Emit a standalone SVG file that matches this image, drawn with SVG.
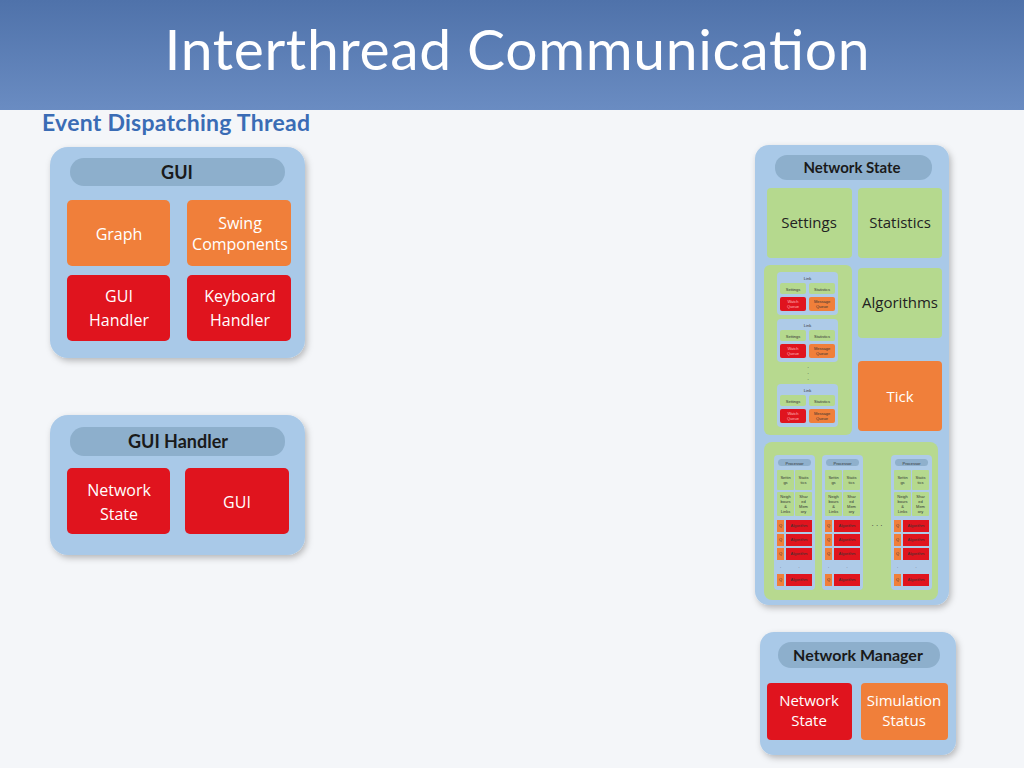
<svg xmlns="http://www.w3.org/2000/svg" xmlns:xlink="http://www.w3.org/1999/xlink" width="1024" height="768" viewBox="0 0 1024 768">
<defs>
<linearGradient id="hdr" x1="0" y1="0" x2="0" y2="1"><stop offset="0" stop-color="#4f72aa"/><stop offset="1" stop-color="#6a8cc2"/></linearGradient>
<filter id="sh" x="-10%" y="-10%" width="130%" height="130%"><feDropShadow dx="2" dy="3" stdDeviation="3" flood-color="#000" flood-opacity="0.25"/></filter>
<g id="link">
<rect x="0" y="0" width="61" height="43" rx="4" fill="#aecbe8"/>
<text x="30.5" y="8" class="t3">Link</text>
<rect x="3" y="11" width="26" height="11" rx="2" fill="#b5d98e"/><text x="16" y="18.5" class="t3">Settings</text>
<rect x="32" y="11" width="26" height="11" rx="2" fill="#b5d98e"/><text x="45" y="18.5" class="t3">Statistics</text>
<rect x="3" y="25" width="26" height="14" rx="2" fill="#e0141e"/><text x="16" y="31" class="t3w">Watch</text><text x="16" y="36" class="t3w">Queue</text>
<rect x="32" y="25" width="26" height="14" rx="2" fill="#f07f3a"/><text x="45" y="31" class="t3">Message</text><text x="45" y="36" class="t3">Queue</text>
</g>
<g id="proc">
<rect x="0" y="0" width="41" height="135" rx="4" fill="#aecbe8"/>
<rect x="4" y="4" width="33" height="7" rx="3.5" fill="#8fb0cc"/><text x="20.5" y="9.5" class="t3">Processor</text>
<rect x="3" y="15" width="17" height="20" rx="1" fill="#b5d98e"/><text x="11.5" y="24" class="t3">Settin</text><text x="11.5" y="29" class="t3">gs</text>
<rect x="21" y="15" width="17" height="20" rx="1" fill="#b5d98e"/><text x="29.5" y="24" class="t3">Statis</text><text x="29.5" y="29" class="t3">tics</text>
<rect x="3" y="37" width="17" height="24" rx="1" fill="#b5d98e"/><text x="11.5" y="43" class="t3">Neigh</text><text x="11.5" y="48" class="t3">bours</text><text x="11.5" y="53" class="t3">&amp;</text><text x="11.5" y="58" class="t3">Links</text>
<rect x="21" y="37" width="17" height="24" rx="1" fill="#b5d98e"/><text x="29.5" y="43" class="t3">Shar</text><text x="29.5" y="48" class="t3">ed</text><text x="29.5" y="53" class="t3">Mem</text><text x="29.5" y="58" class="t3">ory</text>
<g id="qa"><rect x="3" y="65" width="7" height="12" fill="#f07f3a"/><text x="6.5" y="72" class="t3">Q</text><rect x="12" y="65" width="26" height="12" fill="#e0141e"/><text x="25" y="72" class="t3">Algorithm</text></g>
<use xlink:href="#qa" y="14"/><use xlink:href="#qa" y="28"/>
<text x="6.5" y="113" class="t3">.</text><text x="25" y="113" class="t3">.</text>
<use xlink:href="#qa" y="54"/>
</g>
</defs>
<style>
.pan{fill:#a9c9e8;filter:url(#sh)}
.pill{fill:#8dafcc}
.lbl{font-family:"Open Sans","Liberation Sans",sans-serif;font-size:16px;fill:#fff;text-anchor:middle}
.lbk{font-family:"Open Sans","Liberation Sans",sans-serif;font-size:15px;fill:#222;text-anchor:middle}
.hd{font-family:"Lato","Liberation Sans",sans-serif;font-weight:bold;font-size:18px;fill:#1a1a1a;text-anchor:middle}
.t3{font-family:"Liberation Sans",sans-serif;font-size:4px;fill:#333;text-anchor:middle}
.t3w{font-family:"Liberation Sans",sans-serif;font-size:4px;fill:#fbb;text-anchor:middle}
.red{fill:#e0141e}.org{fill:#f07f3a}.grn{fill:#b5d98e}
</style>
<rect width="1024" height="768" fill="#f4f6f9"/>
<rect width="1024" height="110" fill="url(#hdr)"/>
<text x="517" y="70" font-family="Lato,'Open Sans','Liberation Sans',sans-serif" font-size="57" fill="#fff" text-anchor="middle" textLength="705">Interthread Communication</text>
<text x="42" y="131" font-family="Lato,'Liberation Sans',sans-serif" font-weight="bold" font-size="23" fill="#3a6cb5" textLength="268">Event Dispatching Thread</text>

<g id="gui-panel">
<rect class="pan" x="50" y="147" width="255" height="211" rx="18"/>
<rect class="pill" x="70" y="158" width="215" height="28" rx="14"/><text class="hd" x="177" y="179">GUI</text>
<g id="graph"><rect class="org" x="67" y="200" width="103" height="66" rx="5"/><text class="lbl" x="119" y="240">Graph</text></g>
<g id="swing"><rect class="org" x="187" y="200" width="104" height="66" rx="5"/><text class="lbl" x="240" y="229">Swing</text><text class="lbl" x="240" y="250">Components</text></g>
<g id="guihandler"><rect class="red" x="67" y="275" width="103" height="66" rx="5"/><text class="lbl" x="119" y="302">GUI</text><text class="lbl" x="119" y="326">Handler</text></g>
<g id="keyboard"><rect class="red" x="187" y="275" width="104" height="66" rx="5"/><text class="lbl" x="240" y="302">Keyboard</text><text class="lbl" x="240" y="326">Handler</text></g>
</g>

<g id="guihandler-panel">
<rect class="pan" x="50" y="415" width="255" height="140" rx="18"/>
<rect class="pill" x="70" y="427" width="215" height="29" rx="14"/><text class="hd" x="178" y="448">GUI Handler</text>
<g id="gh-ns"><rect class="red" x="67" y="468" width="103" height="66" rx="5"/><text class="lbl" x="119" y="496">Network</text><text class="lbl" x="119" y="520">State</text></g>
<g id="gh-gui"><rect class="red" x="185" y="468" width="104" height="66" rx="5"/><text class="lbl" x="237" y="508">GUI</text></g>
</g>

<g id="networkstate-panel">
<rect class="pan" x="755" y="145" width="194" height="460" rx="14"/>
<rect class="pill" x="775" y="155" width="157" height="25" rx="12"/><text class="hd" x="852" y="173" style="font-size:15px">Network State</text>
<g id="ns-settings"><rect class="grn" x="767" y="188" width="85" height="70" rx="4"/><text class="lbk" x="809" y="228">Settings</text></g>
<g id="ns-stats"><rect class="grn" x="858" y="188" width="84" height="70" rx="4"/><text class="lbk" x="900" y="228">Statistics</text></g>
<g id="links"><rect x="764" y="265" width="88" height="170" rx="6" fill="#b7d98f"/>
<use xlink:href="#link" x="777" y="272"/><use xlink:href="#link" x="777" y="319"/>
<text class="t3" x="808" y="368" style="font-size:6px">.</text><text class="t3" x="808" y="374" style="font-size:6px">.</text><text class="t3" x="808" y="380" style="font-size:6px">.</text>
<use xlink:href="#link" x="777" y="384"/></g>
<g id="algorithms"><rect class="grn" x="858" y="268" width="84" height="70" rx="4"/><text class="lbk" x="900" y="308">Algorithms</text></g>
<g id="tick"><rect class="org" x="858" y="361" width="84" height="70" rx="4"/><text class="lbl" x="900" y="402" style="font-size:15px">Tick</text></g>
<g id="processors"><rect x="764" y="442" width="174" height="158" rx="8" fill="#b7d98f"/>
<use xlink:href="#proc" x="774" y="455"/><use xlink:href="#proc" x="822" y="455"/><use xlink:href="#proc" x="891" y="455"/>
<text class="t3" x="877" y="526" style="font-size:8px">. . .</text></g>
</g>

<g id="networkmanager-panel">
<rect class="pan" x="760" y="632" width="196" height="123" rx="14"/>
<rect class="pill" x="778" y="642" width="162" height="26" rx="13"/><text class="hd" x="858" y="661" style="font-size:16px">Network Manager</text>
<g id="nm-ns"><rect class="red" x="767" y="683" width="85" height="57" rx="4"/><text class="lbl" x="809" y="706" style="font-size:15px">Network</text><text class="lbl" x="809" y="726" style="font-size:15px">State</text></g>
<g id="nm-sim"><rect class="org" x="861" y="683" width="87" height="57" rx="4"/><text class="lbl" x="904" y="706" style="font-size:15px">Simulation</text><text class="lbl" x="904" y="726" style="font-size:15px">Status</text></g>
</g>
<g id="connectors"/>
</svg>
